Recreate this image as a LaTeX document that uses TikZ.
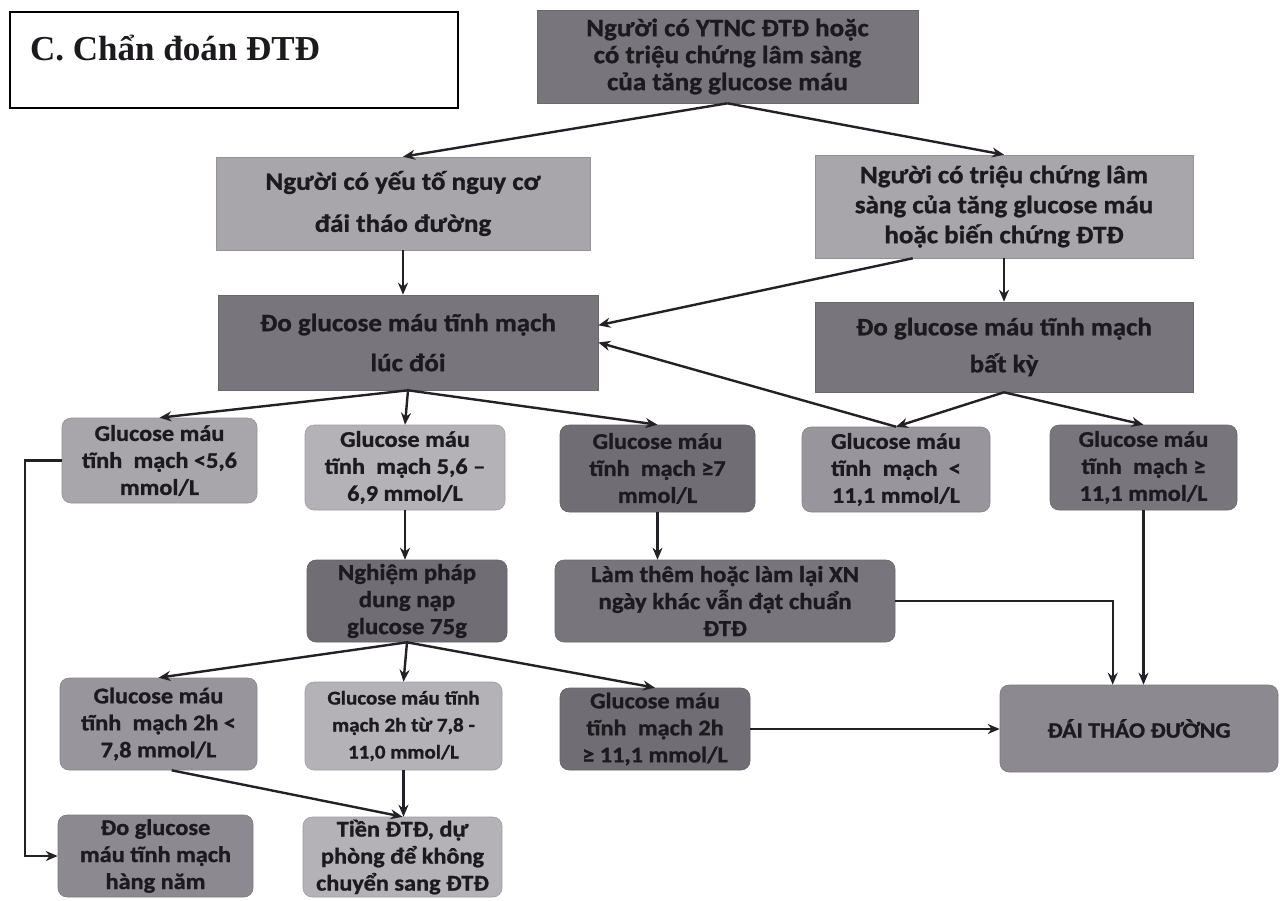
\documentclass[tikz,border=0pt]{standalone}
\usepackage{fontspec}
\setmainfont{Carlito}[FakeStretch=1.08, BoldFeatures={FakeBold=1}]
\newfontfamily\titlefont{Liberation Serif}
\usetikzlibrary{arrows.meta,calc}
\definecolor{txt}{RGB}{28,26,30}
\definecolor{lnc}{RGB}{35,33,37}
\definecolor{cdark}{RGB}{120,117,124}
\definecolor{cdarker}{RGB}{112,110,116}
\definecolor{cmd}{RGB}{140,137,144}
\definecolor{cmid}{RGB}{152,150,156}
\definecolor{clight}{RGB}{168,166,171}
\definecolor{clighter}{RGB}{180,178,183}
\newcommand{\fsTop}{\bfseries\fontsize{25}{27}\selectfont}
\newcommand{\fsRow}{\bfseries\fontsize{22.5}{27}\selectfont}
\newcommand{\fsSmall}{\bfseries\fontsize{19.5}{27}\selectfont}
\begin{document}
\begin{tikzpicture}[x=1pt,y=-1pt,
  box/.style={rectangle, fill=#1, draw=#1!88!black, line width=0.6pt, text=txt, align=center, inner sep=2pt},
  rbox/.style={box=#1, rounded corners=9pt},
  arr/.style={-{Stealth[length=12pt,width=10pt]}, line width=2.4pt, draw=lnc},
  plain/.style={line width=2.4pt, draw=lnc}]
\useasboundingbox (0,0) rectangle (1287,900);
\fill[white] (0,0) rectangle (1287,900);

% title
\node[draw=black, line width=2pt, minimum width=448pt, minimum height=96pt, inner sep=0] (title) at (234,60) {};
\node[anchor=base west, inner sep=0, text=txt, font=\titlefont\bfseries\fontsize{35}{40}\selectfont] (titletext) at (30,60) {C. Chẩn đoán ĐTĐ};

% upper boxes
\node[box=cdark, minimum width=381pt, minimum height=93pt, font=\fsTop] (top) at (727.5,56.5)
  {Người có YTNC ĐTĐ hoặc\\có triệu chứng lâm sàng\\của tăng glucose máu};
\node[box=clight, minimum width=374pt, minimum height=93pt, font=\bfseries\fontsize{25}{42}\selectfont] (risk) at (403,203.5)
  {Người có yếu tố nguy cơ\\đái tháo đường};
\node[box=clight, minimum width=378pt, minimum height=103pt, font=\bfseries\fontsize{25}{30}\selectfont] (symp) at (1004,206.5)
  {Người có triệu chứng lâm\\sàng của tăng glucose máu\\hoặc biến chứng ĐTĐ};
\node[box=cdark, minimum width=380pt, minimum height=95pt, font=\bfseries\fontsize{25}{40}\selectfont] (fast) at (408,342.5)
  {Đo glucose máu tĩnh mạch\\lúc đói};
\node[box=cdark, minimum width=378pt, minimum height=90pt, font=\bfseries\fontsize{25}{37}\selectfont] (rand) at (1004,347)
  {Đo glucose máu tĩnh mạch\\bất kỳ};

% row 1
\node[rbox=clight, minimum width=195pt, minimum height=85pt, font=\fsRow] (A) at (159.5,460.5)
  {Glucose máu\\tĩnh\enspace mạch <5,6\\mmol/L};
\node[rbox=clighter, minimum width=200pt, minimum height=85pt, font=\fsRow] (B) at (405,467.5)
  {Glucose máu\\tĩnh\enspace mạch 5,6 –\\6,9 mmol/L};
\node[rbox=cdarker, minimum width=195pt, minimum height=87pt, font=\fsRow] (C) at (657.5,468.5)
  {Glucose máu\\tĩnh\enspace mạch ≥7\\mmol/L};
\node[rbox=cmid, minimum width=188pt, minimum height=85pt, font=\fsRow] (D) at (896,469.5)
  {Glucose máu\\tĩnh\enspace mạch\enspace <\\11,1 mmol/L};
\node[rbox=cdark, minimum width=187pt, minimum height=85pt, font=\fsRow] (E) at (1143.5,467.5)
  {Glucose máu\\tĩnh\enspace mạch ≥\\11,1 mmol/L};

% row 2
\node[rbox=cdarker, minimum width=200pt, minimum height=82pt, font=\bfseries\fontsize{23}{27}\selectfont] (ogtt) at (407,601)
  {Nghiệm pháp\\dung nạp\\glucose 75g};
\node[rbox=cdark, minimum width=340pt, minimum height=82pt, font=\bfseries\fontsize{23}{27}\selectfont] (retest) at (725,601)
  {Làm thêm hoặc làm lại XN\\ngày khác vẫn đạt chuẩn\\ĐTĐ};

% row 3
\node[rbox=cmid, minimum width=197pt, minimum height=92pt, font=\fsRow] (F) at (158.5,724)
  {Glucose máu\\tĩnh\enspace mạch 2h <\\7,8 mmol/L};
\node[rbox=clighter, minimum width=197pt, minimum height=88pt, font=\fsSmall] (G) at (403.5,726)
  {Glucose máu tĩnh\\mạch 2h từ 7,8 -\\11,0 mmol/L};
\node[rbox=cdarker, minimum width=190pt, minimum height=82pt, font=\fsRow] (H) at (655,729)
  {Glucose máu\\tĩnh\enspace mạch 2h\\≥ 11,1 mmol/L};
\node[rbox=cmd, minimum width=278pt, minimum height=87pt, font=\bfseries\fontsize{22}{27}\selectfont] (dtd) at (1139,728.5)
  {ĐÁI THÁO ĐƯỜNG};

% bottom row
\node[rbox=cmd, minimum width=195pt, minimum height=82pt, font=\fsRow] (annual) at (155.5,856)
  {Đo glucose\\máu tĩnh mạch\\hàng năm};
\node[rbox=clighter, minimum width=199pt, minimum height=80pt, font=\fsRow] (pre) at (402.5,857)
  {Tiền ĐTĐ, dự\\phòng để không\\chuyển sang ĐTĐ};

% connectors
\draw[arr] (top.south) -- (risk.north);
\draw[arr] (top.south) -- (symp.north);
\draw[arr] (risk.south) -- (risk.south |- fast.north);
\draw[arr] (symp.south) -- (symp.south |- rand.north);
\draw[arr] ($(symp.south west)+(98,0)$) -- ($(fast.north east)!0.32!(fast.south east)$);
\draw[arr] (rand.south) -- (D.north);
\draw[arr] (rand.south) -- (E.north);
\draw[arr] (D.north) -- (fast.east);
\draw[arr] (fast.south) -- (A.north);
\draw[arr] (fast.south) -- (B.north);
\draw[arr] (fast.south) -- (C.north);
\draw[arr] (B.south) -- (B.south |- ogtt.north);
\draw[arr] (C.south) -- (C.south |- retest.north);
\draw[arr] (ogtt.south) -- (F.north);
\draw[arr] (ogtt.south) -- (G.north);
\draw[arr] (ogtt.south) -- (H.north);
\draw[arr] ($(F.south west)+(112,0)$) -- (pre.north);
\draw[arr] (G.south) -- (G.south |- pre.north);
\draw[arr] (A.west) -- ++(-37,0) |- (annual.west);
\draw[arr] (retest.east) -| ($(dtd.north west)+(113,0)$);
\draw[arr] (E.south) -- (E.south |- dtd.north);
\draw[arr] (H.east) -- (H.east -| dtd.west);
\end{tikzpicture}
\end{document}
